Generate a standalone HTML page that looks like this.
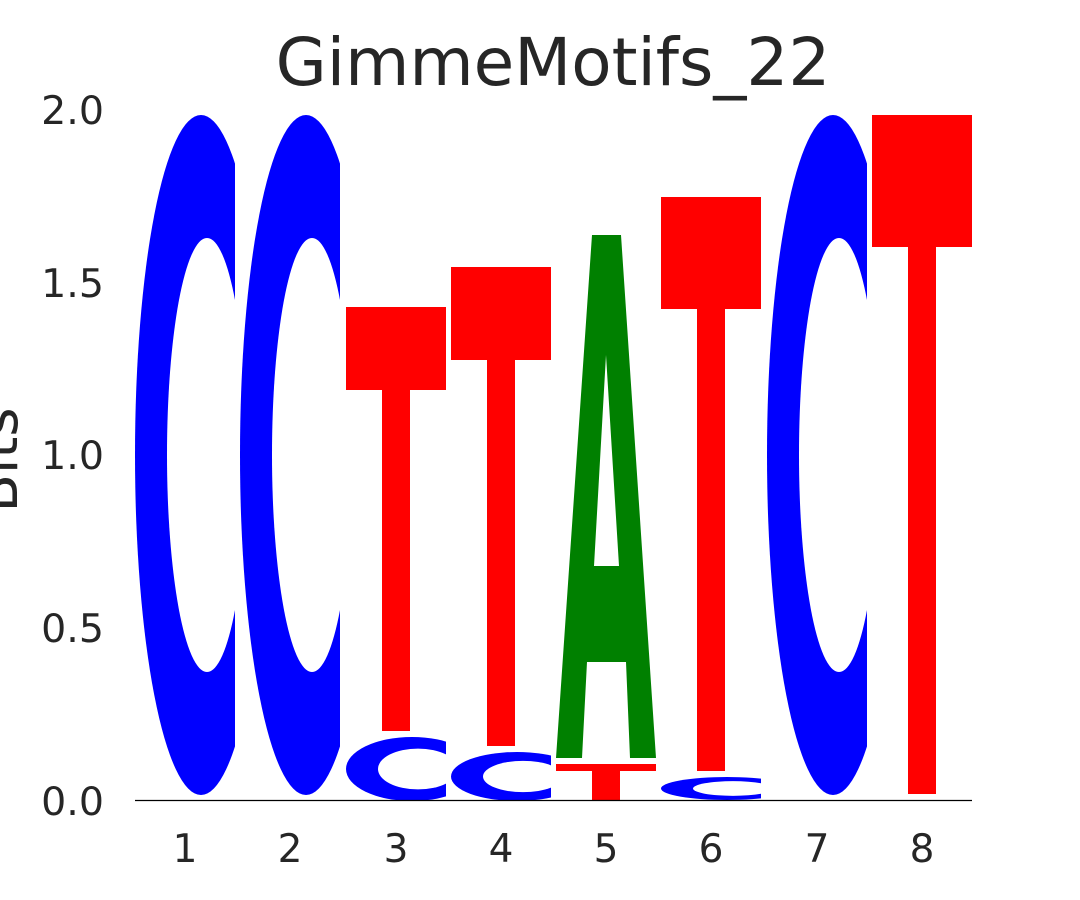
<!DOCTYPE html>
<html><head><meta charset="utf-8"><style>
html,body{margin:0;padding:0;background:#fff;}
svg{display:block;}
text{font-family:"DejaVu Sans","Liberation Sans",sans-serif;fill:#262626;}
</style></head><body>
<svg width="1080" height="900" viewBox="0 0 1080 900" xmlns="http://www.w3.org/2000/svg">
<defs>
<symbol id="C" viewBox="0 0 100 680" preserveAspectRatio="none">
<ellipse cx="66" cy="340" rx="66" ry="340" fill="#0000ff"/>
<ellipse cx="72" cy="340" rx="40" ry="217" fill="#fff"/>
</symbol>
</defs>
<rect width="1080" height="900" fill="#fff"/>
<text x="553" y="85" font-size="66" text-anchor="middle">GimmeMotifs_22</text>
<g font-size="39.5" text-anchor="end">
<text x="104" y="124">2.0</text>
<text x="104" y="297">1.5</text>
<text x="104" y="469">1.0</text>
<text x="104" y="642">0.5</text>
<text x="104" y="815">0.0</text>
</g>
<text transform="translate(17,460) rotate(-90)" font-size="56" text-anchor="middle">Bits</text>
<g font-size="39" text-anchor="middle">
<text x="185" y="862">1</text><text x="290" y="862">2</text><text x="396" y="862">3</text><text x="501" y="862">4</text>
<text x="606" y="862">5</text><text x="711" y="862">6</text><text x="817" y="862">7</text><text x="922" y="862">8</text>
</g>
<use href="#C" x="135" y="115" width="100" height="680"/>
<use href="#C" x="240" y="115" width="100" height="680"/>
<use href="#C" x="767" y="115" width="100" height="680"/>
<use href="#C" x="346" y="737" width="100" height="64"/>
<use href="#C" x="451" y="752" width="100" height="49"/>
<use href="#C" x="661" y="777" width="100" height="23"/>
<g fill="#ff0000">
<rect x="346" y="307" width="100" height="83"/><rect x="382" y="390" width="28" height="341"/>
<rect x="451" y="267" width="100" height="93"/><rect x="487" y="360" width="28" height="386"/>
<rect x="661" y="197" width="100" height="112"/><rect x="697" y="309" width="28" height="462"/>
<rect x="872" y="115" width="100" height="132"/><rect x="908" y="247" width="28" height="547"/>
<rect x="556" y="764" width="100" height="7"/><rect x="592" y="771" width="28" height="29"/>
</g>
<path fill="#008000" fill-rule="evenodd" d="M592,235 L621,235 L656,758 L630,758 L626,662 L587,662 L582,758 L556,758 Z M606,355 L619,566 L594,566 Z"/>
<line x1="135" y1="800.5" x2="972" y2="800.5" stroke="#000" stroke-width="1.2"/>
</svg>
</body></html>
